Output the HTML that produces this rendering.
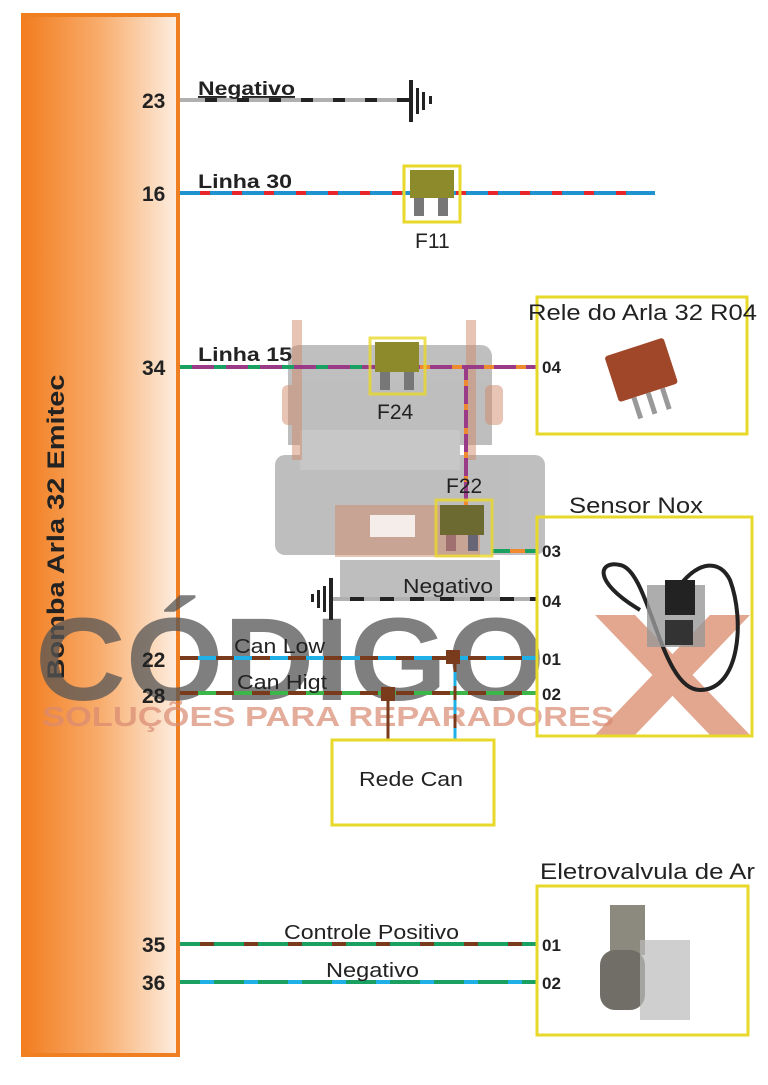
<!DOCTYPE html>
<html><head><meta charset="utf-8"><style>
html,body{margin:0;padding:0;background:#fff;width:768px;height:1085px;overflow:hidden}
svg{display:block}
text{font-family:"Liberation Sans",sans-serif}
</style></head><body>
<svg width="768" height="1085" viewBox="0 0 768 1085" xmlns="http://www.w3.org/2000/svg">
<defs>
<linearGradient id="og" x1="0" x2="1" y1="0" y2="0">
<stop offset="0" stop-color="#f27c1e"/><stop offset="0.5" stop-color="#f8ad6d"/><stop offset="1" stop-color="#fdf0e4"/>
</linearGradient>
</defs>
<rect x="21" y="13" width="159" height="1044" fill="url(#og)"/>
<rect x="21" y="13" width="159" height="4" fill="#f07f22"/>
<rect x="176" y="13" width="4" height="1044" fill="#f07f22"/>
<rect x="21" y="1053" width="159" height="4" fill="#f07f22"/>
<text transform="translate(64,527) rotate(-90)" text-anchor="middle" font-size="24" font-weight="bold" fill="#222" textLength="305" lengthAdjust="spacingAndGlyphs">Bomba Arla 32 Emitec</text>

<g opacity="0.55" fill="#8a8a8a">
<path d="M300 345 h180 q10 0 12 10 v90 h-204 v-90 q2-10 12-10z"/>
<rect x="275" y="455" width="270" height="100" rx="10"/>
<rect x="300" y="430" width="160" height="40" fill="#9a9a9a"/>
<rect x="340" y="560" width="160" height="40"/>
</g>
<g opacity="0.5" fill="#d08a6a">
<rect x="292" y="320" width="10" height="140"/><rect x="466" y="320" width="10" height="140"/>
<rect x="282" y="385" width="18" height="40" rx="6"/><rect x="485" y="385" width="18" height="40" rx="6"/>
<rect x="335" y="505" width="145" height="52"/>
</g>
<rect x="370" y="515" width="45" height="22" fill="#fff" opacity="0.8"/>
<text x="35" y="700" font-size="118" font-weight="bold" fill="#555" opacity="0.75" textLength="510" lengthAdjust="spacingAndGlyphs">CÓDIGO</text>
<path d="M595 615 L635 615 L750 735 L710 735 Z M710 615 L750 615 L635 735 L595 735 Z" fill="#d7805e" opacity="0.7"/>
<text x="42" y="726" font-size="28" font-weight="bold" fill="#d98a72" opacity="0.7" textLength="572" lengthAdjust="spacingAndGlyphs">SOLUÇÕES PARA REPARADORES</text>

<g stroke-width="4" fill="none">
<line x1="180" y1="100" x2="410" y2="100" stroke="#b0b0b0"/>
<line x1="205" y1="100" x2="410" y2="100" stroke="#222" stroke-dasharray="12,20"/>
<line x1="180" y1="193" x2="655" y2="193" stroke="#1f93d0"/>
<line x1="200" y1="193" x2="630" y2="193" stroke="#e8262a" stroke-dasharray="10,22"/>
<line x1="180" y1="367" x2="536" y2="367" stroke="#9a3b87"/>
<line x1="180" y1="367" x2="380" y2="367" stroke="#1aa060" stroke-dasharray="12,22"/>
<line x1="420" y1="367" x2="536" y2="367" stroke="#f08a30" stroke-dasharray="10,22"/>
<line x1="466" y1="367" x2="466" y2="505" stroke="#9a3b87"/>
<line x1="466" y1="380" x2="466" y2="505" stroke="#f08a30" stroke-dasharray="6,18"/>
<line x1="492" y1="551" x2="536" y2="551" stroke="#1aa060"/>
<line x1="510" y1="551" x2="525" y2="551" stroke="#f08a30"/>
<line x1="332" y1="599" x2="536" y2="599" stroke="#b0b0b0"/>
<line x1="350" y1="599" x2="536" y2="599" stroke="#222" stroke-dasharray="14,16"/>
<line x1="180" y1="658" x2="536" y2="658" stroke="#1fb0e8"/>
<line x1="180" y1="658" x2="536" y2="658" stroke="#7a3a1c" stroke-dasharray="18,18"/>
<line x1="180" y1="693" x2="536" y2="693" stroke="#3cb54a"/>
<line x1="180" y1="693" x2="536" y2="693" stroke="#7a3a1c" stroke-dasharray="18,18"/>
<line x1="455" y1="658" x2="455" y2="739" stroke="#1fb0e8" stroke-width="3"/>
<line x1="455" y1="658" x2="455" y2="739" stroke="#7a3a1c" stroke-width="3" stroke-dasharray="14,14"/>
<line x1="388" y1="693" x2="388" y2="739" stroke="#7a3a1c" stroke-width="3"/>
<line x1="180" y1="944" x2="536" y2="944" stroke="#1aa060"/>
<line x1="200" y1="944" x2="536" y2="944" stroke="#7a3a1c" stroke-dasharray="14,30"/>
<line x1="180" y1="982" x2="536" y2="982" stroke="#1aa060"/>
<line x1="200" y1="982" x2="536" y2="982" stroke="#1fb0e8" stroke-dasharray="14,30"/>
</g>
<rect x="446" y="650" width="14" height="14" fill="#7a3a1c"/>
<rect x="381" y="687" width="14" height="14" fill="#7a3a1c"/>

<g fill="#222">
<rect x="409" y="80" width="4" height="42"/><rect x="416" y="88" width="3" height="26"/><rect x="422" y="92" width="3" height="18"/><rect x="429" y="96" width="3" height="8"/>
<rect x="329" y="578" width="4" height="42"/><rect x="323" y="586" width="3" height="26"/><rect x="317" y="590" width="3" height="18"/><rect x="311" y="594" width="3" height="8"/>
</g>

<g>
<rect x="404" y="166" width="56" height="56" fill="none" stroke="#e8d82a" stroke-width="3"/>
<rect x="410" y="170" width="44" height="28" fill="#8c8a2a"/><rect x="414" y="198" width="10" height="18" fill="#777"/><rect x="438" y="198" width="10" height="18" fill="#777"/>
<rect x="370" y="338" width="55" height="56" fill="none" stroke="#e8d82a" stroke-width="3" opacity="0.8"/>
<rect x="375" y="342" width="44" height="30" fill="#8c8a2a"/><rect x="380" y="372" width="10" height="18" fill="#777"/><rect x="404" y="372" width="10" height="18" fill="#777"/>
<rect x="436" y="500" width="56" height="56" fill="none" stroke="#e8d82a" stroke-width="3" opacity="0.8"/>
<rect x="440" y="505" width="44" height="30" fill="#6c6a30"/><rect x="446" y="535" width="10" height="16" fill="#a07070"/><rect x="468" y="535" width="10" height="16" fill="#667"/>
</g>

<g fill="none" stroke="#e8d82a" stroke-width="3">
<rect x="537" y="297" width="210" height="137"/>
<rect x="537" y="517" width="215" height="219"/>
<rect x="332" y="740" width="162" height="85"/>
<rect x="537" y="886" width="211" height="149"/>
</g>
<g transform="rotate(-18 645 375)"><rect x="612" y="345" width="62" height="48" rx="3" fill="#a0472a"/><rect x="625" y="393" width="5" height="22" fill="#999"/><rect x="640" y="393" width="5" height="22" fill="#999"/><rect x="655" y="393" width="5" height="22" fill="#999"/></g>
<path d="M640 610 C590 580 600 560 620 565 C650 570 660 690 700 690 C740 690 745 620 730 580 C720 560 700 560 680 585" fill="none" stroke="#222" stroke-width="4"/>
<rect x="647" y="585" width="58" height="62" fill="#999" opacity="0.8"/><rect x="665" y="580" width="30" height="35" fill="#222"/><rect x="665" y="620" width="28" height="25" fill="#333"/>
<rect x="610" y="905" width="35" height="50" fill="#8c8a7e"/><rect x="600" y="950" width="45" height="60" rx="15" fill="#706e66"/><rect x="640" y="940" width="50" height="80" fill="#bbb" opacity="0.7"/>

<g font-weight="bold" fill="#222" font-size="21">
<text x="142" y="108">23</text><text x="142" y="201">16</text><text x="142" y="375">34</text>
<text x="142" y="667">22</text><text x="142" y="703">28</text><text x="142" y="952">35</text><text x="142" y="990">36</text>
</g>
<g font-weight="bold" fill="#222" font-size="17">
<text x="542" y="373">04</text><text x="542" y="557">03</text><text x="542" y="607">04</text><text x="542" y="665">01</text><text x="542" y="700">02</text><text x="542" y="951">01</text><text x="542" y="989">02</text>
</g>
<g font-weight="bold" fill="#222" font-size="19">
<text x="198" y="95" text-decoration="underline" textLength="97" lengthAdjust="spacingAndGlyphs">Negativo</text>
<text x="198" y="188" textLength="94" lengthAdjust="spacingAndGlyphs">Linha 30</text>
<text x="198" y="361" textLength="94" lengthAdjust="spacingAndGlyphs">Linha 15</text>
</g>
<g fill="#222" font-size="21">
<text x="415" y="248">F11</text>
<text x="377" y="419">F24</text>
<text x="446" y="493">F22</text>
</g>
<g fill="#222" font-size="20">
<text x="403" y="593" textLength="90" lengthAdjust="spacingAndGlyphs">Negativo</text>
<text x="234" y="653" textLength="91" lengthAdjust="spacingAndGlyphs">Can Low</text>
<text x="237" y="689" textLength="90" lengthAdjust="spacingAndGlyphs">Can Higt</text>
<text x="359" y="786" textLength="104" lengthAdjust="spacingAndGlyphs">Rede Can</text>
<text x="284" y="939" textLength="175" lengthAdjust="spacingAndGlyphs">Controle Positivo</text>
<text x="326" y="977" textLength="93" lengthAdjust="spacingAndGlyphs">Negativo</text>
</g>
<g fill="#222" font-size="22">
<text x="528" y="320" textLength="229" lengthAdjust="spacingAndGlyphs">Rele do Arla 32 R04</text>
<text x="569" y="513" textLength="134" lengthAdjust="spacingAndGlyphs">Sensor Nox</text>
<text x="540" y="879" textLength="215" lengthAdjust="spacingAndGlyphs">Eletrovalvula de Ar</text>
</g>
</svg>
</body></html>
